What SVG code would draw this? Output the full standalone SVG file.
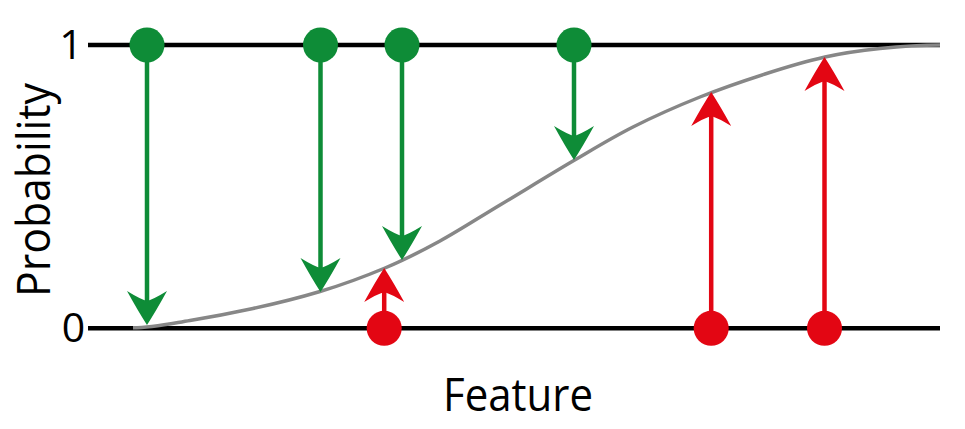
<svg xmlns="http://www.w3.org/2000/svg" width="965" height="429" viewBox="0 0 965 429">
  <style>
    .axis { stroke: #000; stroke-width: 4.5; fill: none; }
    .curve { stroke: #878787; stroke-width: 3.5; fill: none; }
    .g-line { stroke: #0e8c37; stroke-width: 4.5; fill: none; }
    .r-line { stroke: #e30613; stroke-width: 4.5; fill: none; }
    .g-dot { fill: #0e8c37; }
    .r-dot { fill: #e30613; }
    .lbl { font-family: "Open Sans", "Noto Sans", "Liberation Sans", sans-serif; fill: #000; }
  </style>
  <defs>
    <marker id="ahG" markerUnits="userSpaceOnUse" markerWidth="36" markerHeight="42" refX="10" refY="21" orient="auto" overflow="visible">
      <path d="M34,21 Q20,12 0,1 Q8,14 10,21 Q8,28 0,41 Q20,30 34,21 Z" fill="#0e8c37"/>
    </marker>
    <marker id="ahR" markerUnits="userSpaceOnUse" markerWidth="36" markerHeight="42" refX="10" refY="21" orient="auto" overflow="visible">
      <path d="M34,21 Q20,12 0,1 Q8,14 10,21 Q8,28 0,41 Q20,30 34,21 Z" fill="#e30613"/>
    </marker>
  </defs>

  <g id="axes">
    <line class="axis" x1="88" y1="45" x2="940" y2="45"/>
    <line class="axis" x1="88" y1="328.3" x2="940" y2="328.3"/>
    <text class="lbl" x="71" y="59" font-size="41" text-anchor="middle">1</text>
    <text class="lbl" x="73.5" y="342" font-size="41" text-anchor="middle">0</text>
    <text class="lbl" x="518" y="411" font-size="46" text-anchor="middle" textLength="150" lengthAdjust="spacingAndGlyphs">Feature</text>
    <text class="lbl" transform="translate(50,190) rotate(-90)" x="0" y="0" font-size="46" text-anchor="middle" textLength="214" lengthAdjust="spacingAndGlyphs">Probability</text>
  </g>

  <g id="sigmoid">
    <path class="curve" d="M133,327.8 C152,327.8 170,323.8 190,320.5 C210,317.2 231.3,313.2 253,308.5 C274.7,303.8 298,298.1 320,291.5 C342,284.9 365,276.4 385,268 C405,259.6 420.8,251.5 440,241 C459.2,230.5 477.8,218.3 500,205 C522.2,191.7 550.8,174 573,161 C595.2,148 611.8,137.7 633,127 C654.2,116.3 678,105.8 700,97 C722,88.2 744.2,80.7 765,74 C785.8,67.3 805.8,61.25 825,57 C844.2,52.75 860.8,50.5 880,48.5 C899.2,46.5 920,45 940,45"/>
  </g>

  <g id="connectors">
    <line class="g-line" x1="147" y1="45" x2="147" y2="301" marker-end="url(#ahG)"/>
    <line class="g-line" x1="320.5" y1="45" x2="320.5" y2="268" marker-end="url(#ahG)"/>
    <line class="g-line" x1="402" y1="45" x2="402" y2="236" marker-end="url(#ahG)"/>
    <line class="g-line" x1="574" y1="45" x2="574" y2="136" marker-end="url(#ahG)"/>
    <line class="r-line" x1="384.2" y1="328.3" x2="384.2" y2="292" marker-end="url(#ahR)"/>
    <line class="r-line" x1="711.2" y1="328.3" x2="711.2" y2="116" marker-end="url(#ahR)"/>
    <line class="r-line" x1="824.5" y1="328.3" x2="824.5" y2="81" marker-end="url(#ahR)"/>
  </g>

  <g id="g1"><circle class="g-dot" cx="147" cy="45" r="17.5"/></g>
  <g id="g2"><circle class="g-dot" cx="320.5" cy="45" r="17.5"/></g>
  <g id="g3"><circle class="g-dot" cx="402" cy="45" r="17.5"/></g>
  <g id="g4"><circle class="g-dot" cx="574" cy="45" r="17.5"/></g>
  <g id="r1"><circle class="r-dot" cx="384.2" cy="328.3" r="17.5"/></g>
  <g id="r2"><circle class="r-dot" cx="711.2" cy="328.3" r="17.5"/></g>
  <g id="r3"><circle class="r-dot" cx="824.5" cy="328.3" r="17.5"/></g>
</svg>
